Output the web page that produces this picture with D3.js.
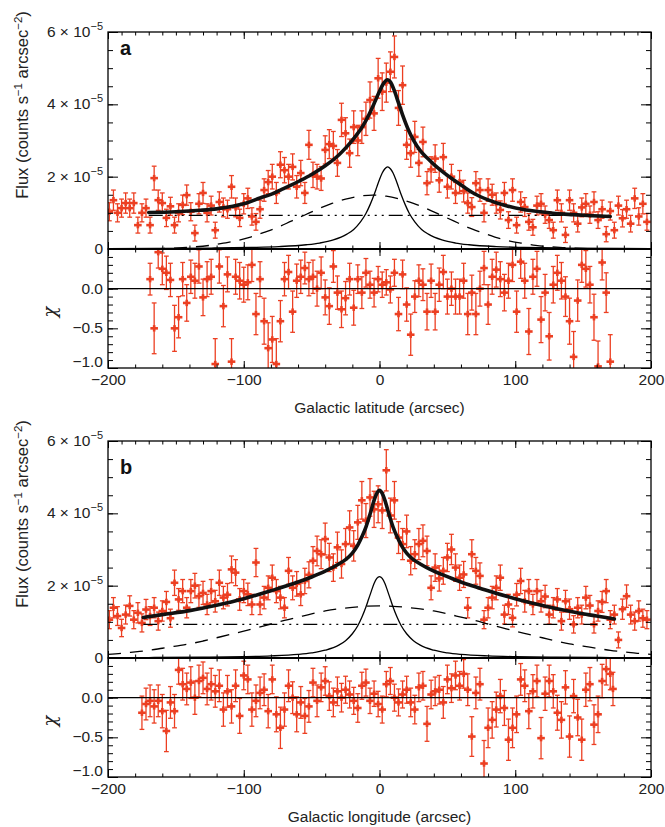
<!DOCTYPE html>
<html>
<head>
<meta charset="utf-8">
<script src="https://cdn.jsdelivr.net/npm/d3@7"></script>
<style>
  body { margin: 0; background: #fff; }
  svg { display: block; font-family: "Liberation Sans", Arial, Helvetica, sans-serif; }
</style>
</head>
<body>
<svg id="chart" width="665" height="827"></svg>
<script>
// ---- data: flux in units of 1e-5 counts s^-1 arcsec^-2, [position, value, error] ----
const latFlux = [[-199,1.03,.25],[-196,1.35,.28],[-193,1.00,.25],[-190,1.13,.25],[-187,1.27,.28],[-184,1.13,.25],[-181,1.27,.28],[-178,0.66,.22],[-175,1.00,.25],[-172,1.13,.25],[-169,0.66,.22],[-166,1.96,.33],[-163,1.35,.28],[-160,1.27,.28],[-157,0.86,.24],[-154,1.18,.25],[-151,0.66,.22],[-148,1.00,.25],[-145,1.22,.27],[-142,1.49,.28],[-139,1.03,.25],[-136,0.44,.22],[-133,1.25,.28],[-130,1.55,.29],[-127,1.00,.25],[-124,1.20,.26],[-121,0.52,.22],[-118,1.30,.28],[-115,1.15,.26],[-112,1.10,.25],[-109,1.72,.31],[-106,1.15,.26],[-103,0.86,.24],[-100,1.25,.28],[-97,1.40,.28],[-94,0.90,.24],[-91,0.75,.23],[-88,1.10,.25],[-85,1.63,.31],[-82,1.85,.32],[-79,2.00,.34],[-76,1.55,.29],[-73,2.33,.36],[-70,2.18,.35],[-67,2.00,.34],[-64,2.27,.36],[-61,1.72,.31],[-58,2.10,.35],[-55,1.55,.29],[-52,2.88,.4],[-49,2.05,.35],[-46,2.00,.34],[-43,1.95,.33],[-40,2.74,.39],[-37,2.90,.4],[-34,2.85,.4],[-31,2.38,.37],[-28,3.57,.46],[-25,3.20,.43],[-22,2.65,.39],[-19,3.37,.45],[-16,3.00,.42],[-13,3.37,.45],[-10,3.60,.46],[-7,4.12,.5],[-4,3.75,.47],[-1,4.72,.55],[2,4.35,.52],[5,4.60,.54],[8,4.90,.55],[11,5.31,.58],[14,3.90,.48],[17,4.53,.53],[20,2.88,.4],[23,2.65,.39],[26,3.10,.43],[29,2.38,.37],[32,2.96,.41],[35,1.82,.32],[38,2.20,.35],[41,2.50,.38],[44,1.90,.33],[47,2.54,.38],[50,1.72,.31],[53,2.00,.34],[56,1.55,.29],[59,1.85,.32],[62,1.60,.3],[65,1.27,.28],[68,1.16,.26],[71,1.82,.32],[74,1.63,.31],[77,1.00,.25],[80,1.63,.31],[83,1.50,.29],[86,1.27,.28],[89,1.08,.25],[92,1.55,.29],[95,0.80,.23],[98,1.63,.31],[101,0.66,.22],[104,1.30,.28],[107,1.16,.26],[110,0.75,.23],[113,0.60,.22],[116,1.20,.26],[119,1.25,.28],[122,0.95,.24],[125,0.80,.23],[128,0.52,.22],[131,1.35,.28],[134,1.00,.25],[137,0.39,.21],[140,1.35,.28],[143,1.00,.25],[146,0.70,.23],[149,1.15,.26],[152,1.25,.28],[155,0.95,.24],[158,1.30,.28],[161,0.80,.23],[164,1.10,.25],[167,0.41,.21],[170,1.05,.25],[173,0.52,.22],[176,1.20,.26],[179,0.85,.24],[182,1.10,.25],[185,0.70,.23],[188,1.40,.28],[191,0.90,.24],[194,1.25,.28],[197,0.75,.23]];

const latChi = [[-169,0.12,.2],[-166,-0.50,.32],[-163,0.46,.2],[-160,0.25,.2],[-157,0.20,.21],[-154,0.11,.21],[-151,-0.50,.29],[-148,-0.36,.26],[-145,0.12,.21],[-142,-0.18,.23],[-139,0.15,.21],[-136,0.10,.22],[-133,0.28,.21],[-130,-0.11,.23],[-127,0.12,.22],[-124,0.15,.22],[-121,-0.95,.32],[-118,0.28,.21],[-115,-0.22,.26],[-112,0.18,.22],[-109,-0.92,.29],[-106,0.15,.22],[-103,0.10,.23],[-100,0.05,.22],[-97,0.08,.22],[-94,0.30,.21],[-91,-0.32,.26],[-88,0.12,.22],[-85,-0.41,.29],[-82,-0.75,.32],[-79,-0.64,.29],[-76,-0.95,.32],[-73,-0.41,.26],[-70,0.12,.21],[-67,0.21,.21],[-64,-0.29,.26],[-61,0.10,.21],[-58,0.15,.21],[-55,0.26,.2],[-52,0.12,.21],[-49,0.15,.21],[-46,0.00,.22],[-43,0.20,.2],[-40,-0.11,.22],[-37,-0.22,.23],[-34,0.28,.2],[-31,-0.05,.21],[-28,-0.26,.23],[-25,-0.12,.21],[-22,0.12,.2],[-19,-0.24,.22],[-16,0.12,.18],[-13,-0.05,.2],[-10,0.20,.18],[-7,0.05,.17],[-4,-0.05,.18],[-1,0.12,.16],[2,0.05,.16],[5,0.08,.16],[8,-0.01,.17],[11,0.20,.17],[14,-0.32,.21],[17,0.18,.18],[20,-0.20,.21],[23,-0.58,.26],[26,-0.10,.2],[29,0.10,.2],[32,0.05,.2],[35,-0.29,.23],[38,0.10,.21],[41,-0.29,.23],[44,0.05,.21],[47,0.21,.21],[50,-0.10,.22],[53,0.00,.21],[56,-0.10,.22],[59,-0.10,.22],[62,0.10,.22],[65,-0.32,.26],[68,-0.05,.22],[71,-0.32,.26],[74,0.00,.22],[77,0.26,.21],[80,-0.20,.25],[83,0.15,.22],[86,0.24,.22],[89,0.12,.22],[92,-0.05,.23],[95,0.10,.22],[98,0.30,.21],[101,-0.29,.26],[104,0.34,.21],[107,0.10,.22],[110,-0.54,.29],[113,0.15,.22],[116,0.25,.22],[119,-0.39,.29],[122,-0.05,.23],[125,-0.60,.3],[128,0.05,.23],[131,0.20,.22],[134,0.10,.23],[137,-0.10,.25],[140,-0.41,.29],[143,-0.86,.32],[146,-0.15,.26],[149,0.30,.22],[152,0.25,.23],[155,0.05,.23],[158,-0.36,.29],[161,-0.98,.32],[164,0.33,.22],[167,-0.05,.25],[170,-0.92,.34]];

const lonFlux = [[-199,1.06,.25],[-196,1.39,.28],[-193,1.16,.26],[-190,0.83,.24],[-187,1.20,.26],[-184,1.44,.28],[-181,1.06,.25],[-178,1.25,.28],[-175,0.97,.25],[-172,1.34,.28],[-169,1.16,.26],[-166,1.39,.28],[-163,1.02,.25],[-160,1.30,.28],[-157,1.55,.29],[-154,1.10,.25],[-151,2.08,.35],[-148,1.62,.3],[-145,1.85,.32],[-142,1.39,.28],[-139,1.85,.32],[-136,2.00,.34],[-133,1.71,.31],[-130,1.80,.32],[-127,1.48,.28],[-124,1.85,.32],[-121,1.57,.3],[-118,2.08,.35],[-115,1.67,.31],[-112,1.75,.31],[-109,2.45,.37],[-106,2.36,.36],[-103,1.62,.3],[-100,1.85,.32],[-97,1.76,.31],[-94,1.48,.28],[-91,2.64,.39],[-88,1.48,.28],[-85,1.67,.31],[-82,1.94,.33],[-79,2.22,.35],[-76,1.85,.32],[-73,1.67,.31],[-70,1.39,.28],[-67,2.41,.37],[-64,1.94,.33],[-61,2.05,.34],[-58,1.76,.31],[-55,2.13,.35],[-52,2.30,.36],[-49,2.69,.39],[-46,2.96,.41],[-43,2.87,.4],[-40,3.29,.44],[-37,2.78,.39],[-34,2.50,.38],[-31,3.06,.42],[-28,2.60,.39],[-25,3.15,.43],[-22,3.61,.46],[-19,3.10,.42],[-16,3.75,.47],[-13,4.36,.52],[-10,3.80,.47],[-7,4.44,.52],[-4,4.11,.5],[-1,4.25,.51],[2,4.08,.5],[5,5.19,.57],[8,3.94,.48],[11,4.36,.52],[14,3.33,.44],[17,3.15,.43],[20,3.50,.45],[23,2.69,.39],[26,2.87,.4],[29,3.15,.43],[32,3.24,.44],[35,2.96,.41],[38,1.94,.33],[41,2.50,.38],[44,2.20,.35],[47,2.41,.37],[50,2.78,.39],[53,3.00,.42],[56,2.50,.38],[59,2.22,.35],[62,2.31,.36],[65,1.39,.28],[68,2.87,.4],[71,2.41,.37],[74,2.27,.36],[77,1.06,.25],[80,1.39,.28],[83,1.67,.31],[86,1.94,.33],[89,2.22,.35],[92,1.20,.26],[95,1.48,.28],[98,1.11,.25],[101,1.75,.31],[104,2.13,.35],[107,1.57,.3],[110,1.85,.32],[113,1.48,.28],[116,1.85,.32],[119,1.57,.3],[122,1.70,.31],[125,1.20,.26],[128,1.39,.28],[131,1.62,.3],[134,1.02,.25],[137,1.57,.3],[140,1.35,.28],[143,0.93,.24],[146,1.39,.28],[149,1.20,.26],[152,1.67,.31],[155,1.45,.28],[158,0.93,.24],[161,1.30,.28],[164,1.55,.29],[167,1.85,.32],[170,1.06,.25],[173,1.20,.26],[176,0.50,.22],[179,1.35,.28],[182,1.71,.31],[185,1.20,.26],[188,1.02,.25],[191,1.30,.28],[194,1.10,.25],[197,1.06,.25]];

const lonChi = [[-175,-0.19,.21],[-172,-0.08,.2],[-169,-0.04,.2],[-166,-0.11,.21],[-163,-0.04,.2],[-160,-0.17,.21],[-157,-0.42,.26],[-154,-0.06,.2],[-151,-0.17,.21],[-148,0.35,.18],[-145,0.17,.2],[-142,0.11,.2],[-139,0.19,.2],[-136,0.00,.21],[-133,0.21,.2],[-130,0.25,.2],[-127,0.11,.2],[-124,0.17,.2],[-121,0.08,.2],[-118,0.15,.2],[-115,-0.15,.21],[-112,0.08,.2],[-109,-0.11,.21],[-106,0.15,.2],[-103,-0.23,.22],[-100,0.28,.18],[-97,0.23,.18],[-94,-0.15,.21],[-91,-0.04,.2],[-88,0.06,.2],[-85,0.10,.2],[-82,-0.17,.21],[-79,0.23,.18],[-76,-0.21,.22],[-73,-0.38,.26],[-70,-0.15,.21],[-67,0.15,.2],[-64,0.00,.2],[-61,-0.21,.22],[-58,-0.06,.2],[-55,-0.23,.22],[-52,-0.11,.2],[-49,0.19,.18],[-46,-0.04,.2],[-43,0.13,.18],[-40,0.21,.18],[-37,0.02,.18],[-34,-0.06,.18],[-31,0.08,.18],[-28,0.00,.18],[-25,0.10,.17],[-22,0.04,.17],[-19,-0.04,.17],[-16,-0.13,.18],[-13,0.15,.17],[-10,0.19,.17],[-7,-0.04,.16],[-4,0.05,.16],[-1,-0.08,.16],[2,-0.15,.17],[5,0.17,.16],[8,0.21,.17],[11,0.00,.17],[14,-0.06,.17],[17,0.04,.17],[20,0.10,.17],[23,-0.06,.18],[26,-0.15,.18],[29,0.13,.18],[32,0.15,.18],[35,-0.33,.22],[38,0.04,.18],[41,0.08,.18],[44,0.10,.18],[47,-0.06,.2],[50,0.23,.18],[53,0.12,.18],[56,0.28,.18],[59,0.15,.18],[62,0.30,.18],[65,0.10,.2],[68,-0.49,.25],[71,0.06,.2],[74,0.17,.2],[77,-0.83,.29],[80,-0.38,.25],[83,-0.28,.23],[86,-0.15,.22],[89,0.02,.21],[92,-0.13,.22],[95,-0.53,.26],[98,-0.38,.25],[101,-0.21,.23],[104,0.23,.2],[107,0.15,.2],[110,-0.17,.22],[113,0.08,.21],[116,0.21,.2],[119,-0.51,.26],[122,0.05,.21],[125,0.21,.2],[128,0.08,.21],[131,-0.19,.22],[134,-0.28,.23],[137,0.13,.21],[140,-0.49,.26],[143,0.02,.21],[146,-0.25,.23],[149,-0.53,.26],[152,0.10,.21],[155,0.17,.21],[158,-0.34,.25],[161,-0.21,.23],[164,0.21,.21],[167,0.36,.2],[170,0.30,.2],[172,0.11,.21]];

// ---- model curves, [position, flux] ----
const latTotal = [[-170,1.01],[-150,1.03],[-132,1.07],[-120,1.11],[-108,1.18],[-98,1.27],[-88,1.41],[-80,1.51],[-73,1.63],[-66,1.75],[-59,1.88],[-50,2.06],[-40,2.30],[-30,2.60],[-24,2.83],[-18,3.10],[-12,3.42],[-8,3.70],[-4,4.02],[0,4.36],[3,4.58],[6,4.68],[8,4.62],[11,4.37],[14,4.04],[17,3.71],[21,3.32],[25,3.01],[30,2.72],[35,2.52],[40,2.34],[45,2.18],[55,1.90],[62,1.72],[69,1.55],[80,1.36],[94,1.19],[106,1.09],[118,1.03],[130,0.98],[143,0.95],[157,0.92],[170,0.90]];
const latNarrow = [[-200,0.01],[-164,0.015],[-124,0.026],[-94,0.044],[-74,0.067],[-54,0.117],[-44,0.165],[-34,0.25],[-24,0.41],[-19,0.54],[-14,0.75],[-10,0.98],[-7,1.22],[-4,1.50],[-2,1.71],[0,1.92],[2,2.10],[4,2.22],[6,2.27],[8,2.22],[10,2.10],[12,1.92],[14,1.71],[16,1.50],[19,1.22],[22,0.98],[26,0.75],[31,0.54],[36,0.41],[46,0.25],[56,0.165],[66,0.117],[86,0.067],[106,0.044],[136,0.026],[176,0.015],[200,0.012]];
const latBroad = [[-200,0],[-165,0.01],[-145,0.04],[-125,0.10],[-115,0.16],[-105,0.23],[-95,0.33],[-85,0.46],[-75,0.60],[-65,0.77],[-55,0.94],[-45,1.11],[-35,1.26],[-25,1.38],[-15,1.46],[-5,1.49],[5,1.46],[15,1.38],[25,1.26],[35,1.11],[45,0.94],[55,0.77],[65,0.60],[75,0.46],[85,0.33],[95,0.23],[105,0.16],[115,0.10],[135,0.04],[155,0.01],[200,0]];
const latConst = [[-170,0.93],[170,0.93]];

const lonTotal = [[-174,1.12],[-160,1.20],[-140,1.31],[-120,1.46],[-100,1.64],[-80,1.86],[-60,2.10],[-50,2.24],[-40,2.40],[-30,2.60],[-25,2.72],[-20,2.90],[-16,3.12],[-13,3.35],[-10,3.62],[-8,3.85],[-6,4.10],[-4,4.36],[-2,4.55],[0,4.64],[2,4.55],[4,4.36],[6,4.10],[8,3.85],[10,3.62],[13,3.35],[16,3.12],[20,2.90],[25,2.72],[30,2.60],[40,2.40],[50,2.25],[60,2.10],[80,1.86],[100,1.64],[120,1.45],[140,1.29],[160,1.16],[173,1.08]];
const lonNarrow = [[-200,0.0095],[-170,0.013],[-130,0.022],[-100,0.037],[-80,0.058],[-60,0.10],[-50,0.142],[-40,0.215],[-30,0.355],[-25,0.48],[-20,0.67],[-16,0.89],[-13,1.125],[-10,1.41],[-8,1.63],[-6,1.85],[-4,2.06],[-2,2.20],[0,2.25],[2,2.20],[4,2.06],[6,1.85],[8,1.63],[10,1.41],[13,1.125],[16,0.89],[20,0.67],[25,0.48],[30,0.355],[40,0.215],[50,0.142],[60,0.10],[80,0.058],[100,0.037],[130,0.022],[170,0.013],[200,0.0095]];
const lonBroad = [[-200,0.10],[-190,0.13],[-180,0.17],[-170,0.21],[-160,0.27],[-150,0.33],[-140,0.39],[-130,0.47],[-120,0.56],[-110,0.65],[-100,0.74],[-90,0.84],[-80,0.94],[-70,1.04],[-60,1.13],[-50,1.22],[-40,1.30],[-30,1.36],[-20,1.40],[-10,1.43],[0,1.44],[10,1.43],[20,1.40],[30,1.36],[40,1.30],[50,1.22],[60,1.13],[70,1.04],[80,0.94],[90,0.84],[100,0.74],[110,0.65],[120,0.56],[130,0.47],[140,0.39],[150,0.33],[160,0.27],[170,0.21],[180,0.17],[190,0.13],[200,0.10]];
const lonConst = [[-174,0.93],[173,0.93]];

const xTicks = [-200, -100, 0, 100, 200];
const fluxTicks = [0, 2, 4, 6];
const chiTicks = [0, -0.5, -1];

// ---- layout ----
const svg = d3.select("#chart");
const X0 = 108, X1 = 651;
const FLUX_H = 217, CHI_H = 119;
const red = "#ec3f22";
const ink = "#222";
const FS = 15.5;

const x = d3.scaleLinear().domain([-200, 200]).range([X0, X1]);
const halfBin = 2.8; // arcsec, horizontal bar of each point

function points(g, data, y) {
  const pt = g.selectAll("g.pt").data(data).enter().append("g").attr("class", "pt")
    .attr("stroke", red).attr("fill", "none");
  // error bar with caps
  pt.append("line")
    .attr("x1", d => x(d[0])).attr("x2", d => x(d[0]))
    .attr("y1", d => y(d[1] - d[2])).attr("y2", d => y(d[1] + d[2]))
    .attr("stroke-width", 1.3);
  pt.append("line")
    .attr("x1", d => x(d[0]) - 2.4).attr("x2", d => x(d[0]) + 2.4)
    .attr("y1", d => y(d[1] + d[2])).attr("y2", d => y(d[1] + d[2]))
    .attr("stroke-width", 1.3);
  pt.append("line")
    .attr("x1", d => x(d[0]) - 2.4).attr("x2", d => x(d[0]) + 2.4)
    .attr("y1", d => y(d[1] - d[2])).attr("y2", d => y(d[1] - d[2]))
    .attr("stroke-width", 1.3);
  // bin width + bold centre
  pt.append("line")
    .attr("x1", d => x(d[0] - halfBin)).attr("x2", d => x(d[0] + halfBin))
    .attr("y1", d => y(d[1])).attr("y2", d => y(d[1]))
    .attr("stroke-width", 2.6);
  pt.append("line")
    .attr("x1", d => x(d[0])).attr("x2", d => x(d[0]))
    .attr("y1", d => y(d[1]) - 3.2).attr("y2", d => y(d[1]) + 3.2)
    .attr("stroke-width", 2.6);
}

function styleAxis(sel) {
  sel.select(".domain").remove();
  sel.selectAll(".tick line").attr("stroke", "#000").attr("stroke-width", 1);
  sel.selectAll("text").attr("font-size", FS).attr("fill", ink)
    .attr("font-family", "Liberation Sans, Arial, sans-serif");
}

function drawPanel(p) {
  const top = p.top;
  const yF = d3.scaleLinear().domain([0, 6]).range([top + FLUX_H, top]);
  const yC = d3.scaleLinear().domain([-1, 0.5]).range([top + FLUX_H + CHI_H, top + FLUX_H]);
  const chiBottom = top + FLUX_H + CHI_H;
  const g = svg.append("g");

  // clip regions
  g.append("clipPath").attr("id", "cf" + p.id)
    .append("rect").attr("x", X0).attr("y", top).attr("width", X1 - X0).attr("height", FLUX_H);
  g.append("clipPath").attr("id", "cc" + p.id)
    .append("rect").attr("x", X0).attr("y", top + FLUX_H).attr("width", X1 - X0).attr("height", CHI_H);

  // data
  const gf = g.append("g").attr("clip-path", `url(#cf${p.id})`);
  points(gf, p.flux, yF);
  const gc = g.append("g").attr("clip-path", `url(#cc${p.id})`);
  points(gc, p.chi, yC);

  // chi zero line
  g.append("line").attr("x1", X0).attr("x2", X1)
    .attr("y1", yC(0)).attr("y2", yC(0))
    .attr("stroke", "#000").attr("stroke-width", 1.2);

  // model curves
  const line = d3.line().x(d => x(d[0])).y(d => yF(d[1])).curve(d3.curveMonotoneX);
  gf.append("path").datum(p.constant).attr("d", line)
    .attr("fill", "none").attr("stroke", "#000").attr("stroke-width", 1.3)
    .attr("stroke-dasharray", "14,5,2,5,2,5,2,5");
  gf.append("path").datum(p.broad).attr("d", line)
    .attr("fill", "none").attr("stroke", "#000").attr("stroke-width", 1.3)
    .attr("stroke-dasharray", "13,9");
  gf.append("path").datum(p.narrow).attr("d", line)
    .attr("fill", "none").attr("stroke", "#000").attr("stroke-width", 1.3);
  gf.append("path").datum(p.total).attr("d", line)
    .attr("fill", "none").attr("stroke", "#111").attr("stroke-width", 3.6)
    .attr("stroke-linecap", "round").attr("stroke-linejoin", "round");

  // ---- axes (ticks point inward) ----
  // flux plot
  g.append("g").attr("transform", `translate(${X0},0)`)
    .call(d3.axisLeft(yF).tickValues(fluxTicks).tickSize(-10).tickFormat("")).call(styleAxis);
  g.append("g").attr("transform", `translate(${X0},0)`)
    .call(d3.axisLeft(yF).ticks(12).tickSize(-5).tickFormat("")).call(styleAxis);
  g.append("g").attr("transform", `translate(${X1},0)`)
    .call(d3.axisRight(yF).tickValues(fluxTicks).tickSize(-10).tickFormat("")).call(styleAxis);
  g.append("g").attr("transform", `translate(${X1},0)`)
    .call(d3.axisRight(yF).ticks(12).tickSize(-5).tickFormat("")).call(styleAxis);
  g.append("g").attr("transform", `translate(0,${top})`)
    .call(d3.axisTop(x).tickValues(xTicks).tickSize(-7).tickFormat("")).call(styleAxis);
  g.append("g").attr("transform", `translate(0,${top})`)
    .call(d3.axisTop(x).ticks(40).tickSize(-3.5).tickFormat("")).call(styleAxis);
  g.append("g").attr("transform", `translate(0,${top + FLUX_H})`)
    .call(d3.axisBottom(x).tickValues(xTicks).tickSize(-7).tickFormat("")).call(styleAxis);
  g.append("g").attr("transform", `translate(0,${top + FLUX_H})`)
    .call(d3.axisBottom(x).ticks(20).tickSize(-3.5).tickFormat("")).call(styleAxis);

  // chi plot
  g.append("g").attr("transform", `translate(${X0},0)`)
    .call(d3.axisLeft(yC).tickValues([0.5, 0, -0.5, -1]).tickSize(-10).tickFormat("")).call(styleAxis);
  g.append("g").attr("transform", `translate(${X0},0)`)
    .call(d3.axisLeft(yC).ticks(15).tickSize(-5).tickFormat("")).call(styleAxis);
  g.append("g").attr("transform", `translate(${X1},0)`)
    .call(d3.axisRight(yC).tickValues([0.5, 0, -0.5, -1]).tickSize(-10).tickFormat("")).call(styleAxis);
  g.append("g").attr("transform", `translate(${X1},0)`)
    .call(d3.axisRight(yC).ticks(15).tickSize(-5).tickFormat("")).call(styleAxis);
  g.append("g").attr("transform", `translate(0,${top + FLUX_H})`)
    .call(d3.axisTop(x).tickValues(xTicks).tickSize(-7).tickFormat("")).call(styleAxis);
  g.append("g").attr("transform", `translate(0,${top + FLUX_H})`)
    .call(d3.axisTop(x).ticks(20).tickSize(-3.5).tickFormat("")).call(styleAxis);
  g.append("g").attr("transform", `translate(0,${chiBottom})`)
    .call(d3.axisBottom(x).ticks(20).tickSize(-3.5).tickFormat("")).call(styleAxis);
  g.append("g").attr("transform", `translate(0,${chiBottom})`)
    .call(d3.axisBottom(x).tickValues(xTicks).tickSize(-7).tickPadding(6)).call(styleAxis);

  // frames
  g.append("rect").attr("x", X0).attr("y", top).attr("width", X1 - X0).attr("height", FLUX_H)
    .attr("fill", "none").attr("stroke", "#000").attr("stroke-width", 1.3);
  g.append("rect").attr("x", X0).attr("y", top + FLUX_H).attr("width", X1 - X0).attr("height", CHI_H)
    .attr("fill", "none").attr("stroke", "#000").attr("stroke-width", 1.3);
  g.append("line").attr("x1", X0).attr("x2", X1)
    .attr("y1", top + FLUX_H).attr("y2", top + FLUX_H)
    .attr("stroke", "#000").attr("stroke-width", 2.2);

  // flux tick labels with powers of ten
  fluxTicks.forEach(v => {
    const t = g.append("text").attr("x", X0 - 5).attr("y", yF(v) + 5)
      .attr("text-anchor", "end").attr("font-size", FS).attr("fill", ink);
    if (v === 0) { t.text("0"); return; }
    t.append("tspan").text(v + " \u00d7 10");
    t.append("tspan").attr("dy", -7).attr("font-size", 11).text("\u22125");
  });

  // chi tick labels
  chiTicks.forEach(v => {
    g.append("text").attr("x", X0 - 5).attr("y", yC(v) + 5 - (v === -1 ? 6 : 0))
      .attr("text-anchor", "end").attr("font-size", FS).attr("fill", ink)
      .text(d3.format(".1f")(v));
  });

  // axis titles
  const ft = g.append("text").attr("transform", `translate(28,${top + 73}) rotate(-90)`)
    .attr("text-anchor", "middle").attr("font-size", 16.5).attr("fill", ink);
  ft.append("tspan").text("Flux (counts s");
  ft.append("tspan").attr("dy", -6).attr("font-size", 11.5).text("\u22121");
  ft.append("tspan").attr("dy", 6).text(" arcsec");
  ft.append("tspan").attr("dy", -6).attr("font-size", 11.5).text("\u22122");
  ft.append("tspan").attr("dy", 6).text(")");

  g.append("text").attr("transform", `translate(56,${top + 280}) rotate(-90)`)
    .attr("text-anchor", "middle").attr("font-size", 18).attr("fill", ink)
    .attr("font-family", "DejaVu Serif, serif").attr("font-style", "italic")
    .text("\u03c7");

  g.append("text").attr("x", (X0 + X1) / 2).attr("y", chiBottom + 45)
    .attr("text-anchor", "middle").attr("font-size", FS).attr("fill", ink)
    .text(p.title);

  g.append("text").attr("x", 120).attr("y", p.letterY)
    .attr("font-size", 20).attr("font-weight", "bold").attr("fill", "#111")
    .text(p.letter);
}

drawPanel({ id: "a", top: 32, letter: "a", letterY: 55, title: "Galactic latitude (arcsec)",
  flux: latFlux, chi: latChi, total: latTotal, narrow: latNarrow, broad: latBroad, constant: latConst });
drawPanel({ id: "b", top: 441, letter: "b", letterY: 474, title: "Galactic longitude (arcsec)",
  flux: lonFlux, chi: lonChi, total: lonTotal, narrow: lonNarrow, broad: lonBroad, constant: lonConst });
</script>
</body>
</html>
